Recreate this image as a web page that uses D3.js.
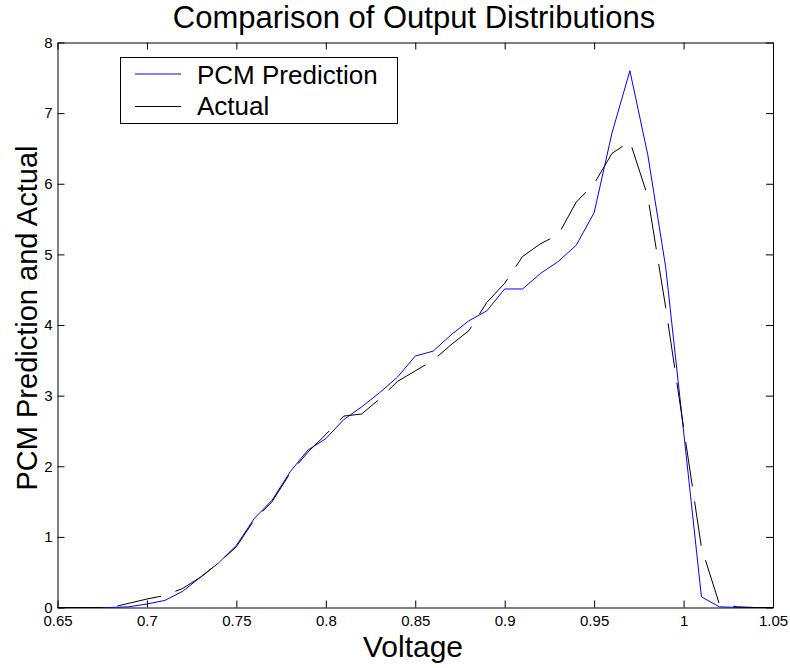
<!DOCTYPE html>
<html>
<head>
<meta charset="utf-8">
<script src="https://cdn.jsdelivr.net/npm/d3@7"></script>
<style>
  body { margin: 0; background: #fff; }
  svg { font-family: "Liberation Sans", Arial, sans-serif; }
</style>
</head>
<body>
<div id="chart"></div>
<script>
const voltage = [0.65, 0.66, 0.67, 0.68, 0.69, 0.70, 0.71, 0.72, 0.73, 0.74,
  0.75, 0.76, 0.77, 0.78, 0.79, 0.80, 0.81, 0.82, 0.83, 0.84,
  0.85, 0.86, 0.87, 0.88, 0.89, 0.90, 0.91, 0.92, 0.93, 0.94,
  0.95, 0.96, 0.97, 0.98, 0.99, 1.00, 1.01, 1.02, 1.03, 1.04, 1.05]
const pcm = [0, 0, 0, 0, 0.01, 0.05, 0.1, 0.23, 0.43, 0.63,
  0.88, 1.26, 1.52, 1.92, 2.23, 2.39, 2.66, 2.84, 3.04, 3.26,
  3.56, 3.63, 3.86, 4.06, 4.2, 4.51, 4.51, 4.73, 4.9, 5.13,
  5.59, 6.72, 7.6, 6.41, 4.82, 2.5, 0.15, 0.01, 0, 0, 0]
const actual = [0, 0, 0, 0, 0.06, 0.12, 0.17, 0.27, 0.43, 0.63,
  0.86, 1.24, 1.5, 1.9, 2.2, 2.45, 2.71, 2.74, 2.95, 3.2,
  3.35, 3.5, 3.72, 3.92, 4.32, 4.59, 4.97, 5.15, 5.28, 5.74,
  6.0, 6.43, 6.6, 5.82, 4.25, 2.55, 0.85, 0.05, 0.01, 0, 0]
const xTicks = [0.65, 0.7, 0.75, 0.8, 0.85, 0.9, 0.95, 1, 1.05]
const yTicks = [0, 1, 2, 3, 4, 5, 6, 7, 8]

const width = 790
const height = 668
const box = { left: 57.5, right: 773, top: 42.5, bottom: 607.5 }

const svg = d3.select("#chart").append("svg")
  .attr("width", width)
  .attr("height", height)

const x = d3.scaleLinear().domain([0.65, 1.05]).range([box.left, box.right])
const y = d3.scaleLinear().domain([0, 8]).range([box.bottom, box.top])

// axes, ticks pointing inside the box
svg.append("g")
  .attr("transform", `translate(0,${box.bottom})`)
  .call(d3.axisBottom(x).tickValues(xTicks).tickFormat(d => String(d))
    .tickSizeInner(-7).tickSizeOuter(0).tickPadding(8))
svg.append("g")
  .attr("transform", `translate(0,${box.top})`)
  .call(d3.axisTop(x).tickValues(xTicks).tickFormat("")
    .tickSizeInner(-7).tickSizeOuter(0))
svg.append("g")
  .attr("transform", `translate(${box.left},0)`)
  .call(d3.axisLeft(y).tickValues(yTicks).tickFormat(d3.format("d"))
    .tickSizeInner(-7).tickSizeOuter(0).tickPadding(5))
svg.append("g")
  .attr("transform", `translate(${box.right},0)`)
  .call(d3.axisRight(y).tickValues(yTicks).tickFormat("")
    .tickSizeInner(-7).tickSizeOuter(0))

svg.selectAll(".tick text")
  .style("font-size", "15px")
  .style("font-family", "'Liberation Sans', Arial, sans-serif")
  .attr("fill", "#000")
svg.selectAll(".domain, .tick line").attr("stroke", "#000")

const line = d3.line()
  .x(d => x(d[0]))
  .y(d => y(d[1]))

svg.append("path")
  .datum(voltage.map((v, i) => [v, pcm[i]]))
  .attr("fill", "none")
  .attr("stroke", "#0000ff")
  .attr("stroke-width", 1)
  .attr("d", line)

svg.append("path")
  .datum(voltage.map((v, i) => [v, actual[i]]))
  .attr("fill", "none")
  .attr("stroke", "#000")
  .attr("stroke-width", 1)
  .attr("stroke-dasharray", "45,15")
  .attr("d", line)

// legend
const lg = svg.append("g")
lg.append("rect")
  .attr("x", 120.5).attr("y", 57.5)
  .attr("width", 277).attr("height", 66)
  .attr("fill", "#fff").attr("stroke", "#000")
const items = [
  {name: "PCM Prediction", color: "#0000ff", ly: 74, ty: 84},
  {name: "Actual", color: "#000", ly: 106.5, ty: 115}
]
items.forEach(it => {
  lg.append("line")
    .attr("x1", 135).attr("x2", 181)
    .attr("y1", it.ly).attr("y2", it.ly)
    .attr("stroke", it.color)
  lg.append("text")
    .attr("x", 197).attr("y", it.ty)
    .style("font-size", "26px")
    .text(it.name)
})

svg.append("text")
  .attr("x", 414).attr("y", 28)
  .attr("text-anchor", "middle")
  .style("font-size", "31px")
  .text("Comparison of Output Distributions")

svg.append("text")
  .attr("x", 413).attr("y", 657)
  .attr("text-anchor", "middle")
  .style("font-size", "30px")
  .text("Voltage")

svg.append("text")
  .attr("transform", "translate(36.5,318) rotate(-90)")
  .attr("text-anchor", "middle")
  .style("font-size", "29px")
  .text("PCM Prediction and Actual")
</script>
</body>
</html>
